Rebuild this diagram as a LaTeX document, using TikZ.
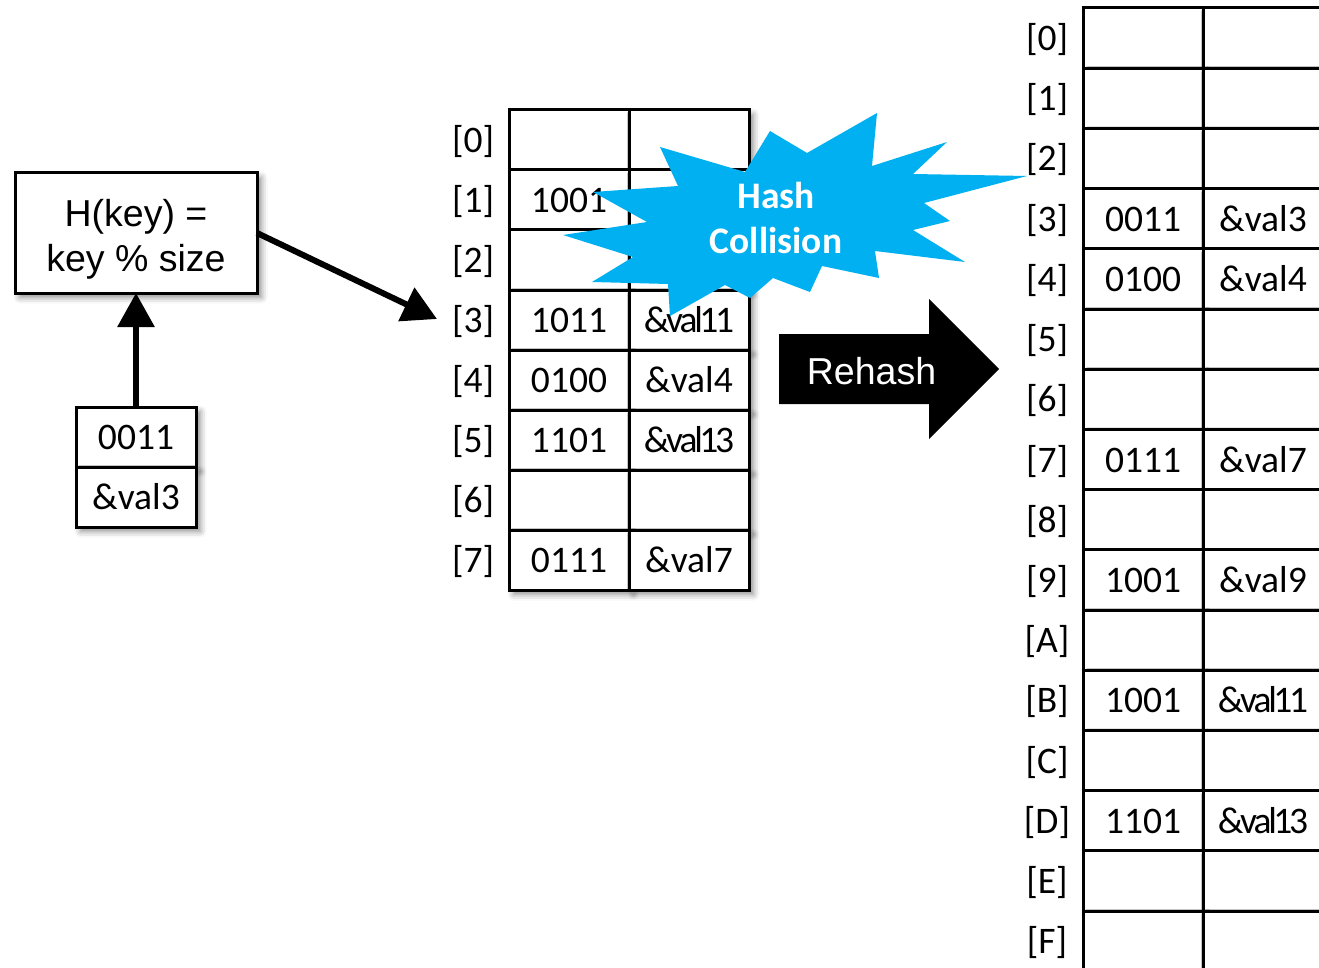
\documentclass[tikz,border=0pt]{standalone}
\usepackage{fontspec}
\setmainfont{Carlito}
\newfontfamily\arialfont{Liberation Sans}
\usetikzlibrary{arrows.meta,shadows.blur}
\definecolor{burstblue}{HTML}{00B0F0}
\newcommand\tblfont{\fontsize{37.5}{45}\selectfont}
\newcommand\hfont{\arialfont\fontsize{37.5}{45}\selectfont}
% two-digit value pointers are set with condensed letter spacing
\newcommand\tightval[2]{\&\kern-3.4pt v\kern-3.4pt a\kern-3.4pt l\kern-3.4pt #1\kern-3.4pt #2}

\tikzset{
  x=1pt, y=-1pt,
  softshadow/.style={blur shadow={shadow xshift=4.5pt, shadow yshift=-4.5pt,
      shadow blur radius=6pt, shadow opacity=45}},
  cell/.style={draw, line width=3pt, fill=white, minimum width=120pt,
      minimum height=60pt, inner sep=0pt, outer sep=0pt, font=\tblfont,
      text height=25pt, text depth=0pt, softshadow},
  tall/.style={minimum height=60.2pt},
  idx/.style={inner sep=0pt, font=\tblfont, text height=25pt, text depth=0pt},
  hashbox/.style={draw, line width=3pt, fill=white, minimum width=242pt,
      minimum height=120pt, inner sep=0pt, outer sep=0pt, softshadow},
  bigarrow/.style={line width=6pt, -{Triangle[width=36pt,length=34pt]}},
}

\begin{document}
\begin{tikzpicture}
\useasboundingbox (0,0) rectangle (1319,968);
\begin{scope}
\clip (0,0) rectangle (1319,968);

% hash function box and the key/value pair fed into it
\node[hashbox] (H) at (136,233) {};
\node[font=\hfont, align=center, inner sep=0pt] (Htext) at (136,239)
  {H(key) =\\key \% size};
\node[cell] (k0) at (136,437) {0011};
\node[cell] (k1) at (136,497) {\&val3};

\draw[bigarrow] (k0.north) -- (H.south);

% table of size 8
\foreach \i/\k/\v in {0/{}/{},1/1001/{},2/{}/{},3/1011/{\tightval11},4/0100/\&val4,
                      5/1101/{\tightval13},6/{}/{},7/0111/\&val7}{
  \node[cell] (mk\i) at (569,140+60*\i) {\k};
  \node[cell] (mv\i) at (689,140+60*\i) {\v};
  \node[idx]  (ml\i) at (473,140+60*\i) {[\i]};
}

\coordinate (hit) at (437,319);
\draw[bigarrow] (H.east) -- (hit);

% table of size 16 after rehashing
\foreach \i/\n/\k/\v in {0/0/{}/{},1/1/{}/{},2/2/{}/{},3/3/0011/\&val3,
    4/4/0100/\&val4,5/5/{}/{},6/6/{}/{},7/7/0111/\&val7,8/8/{}/{},
    9/9/1001/\&val9,10/A/{}/{},11/B/1001/{\tightval11},12/C/{}/{},
    13/D/1101/{\tightval13},14/E/{}/{},15/F/{}/{}}{
  \node[cell,tall] (rk\i) at (1143,38.1+60.2*\i) {\k};
  \node[cell,tall] (rv\i) at (1263,38.1+60.2*\i) {\v};
  \node[idx]       (rl\i) at (1047,38.1+60.2*\i) {[\n]};
}

% collision starburst
\fill[burstblue] (660,147) -- (745,172) -- (770,131) -- (807,153) -- (877,113)
  -- (872,166) -- (947,142) -- (913,174) -- (1027,176) -- (924,203)
  -- (950,221) -- (913,230) -- (965,262) -- (875,251) -- (879,278)
  -- (822,266) -- (810,292) -- (773,278) -- (750,298) -- (725,285)
  -- (670,316) -- (668,284) -- (592,282) -- (633,257) -- (563,235)
  -- (647,222) -- (593,192) -- (678,186) -- cycle;
\node[font=\tblfont\bfseries, text=white, align=center, inner sep=0pt]
  (hc) at (776,218) {Hash\\Collision};

% rehash block arrow
\fill[black] (779,334) -- (929,334) -- (929,299) -- (999,369) -- (929,439)
  -- (929,404) -- (779,404) -- cycle;
\node[font=\hfont, text=white, anchor=base, inner sep=0pt] (rehash)
  at (871.5,384) {Rehash};
\end{scope}
\end{tikzpicture}
\end{document}
